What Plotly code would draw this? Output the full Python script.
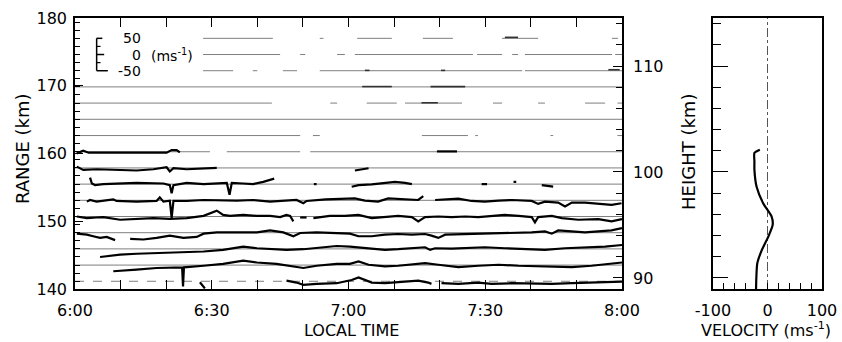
import plotly.graph_objects as go

# ---------------- data ----------------
time_tickvals = [0, 30, 60, 90, 120]          # minutes after 6:00 LT
time_ticktext = ["6:00", "6:30", "7:00", "7:30", "8:00"]
range_tickvals = [140, 150, 160, 170, 180]
height_tickvals = [90, 100, 110]
vel_tickvals = [-100, 0, 100]
vel_ticktext = ["-100", "0", "100"]

# gate (baseline) ranges, km
row_range = [177.00, 174.61, 172.22, 169.83, 167.44, 165.05, 162.65, 160.26,
             157.87, 155.48, 153.09, 150.70, 148.31, 145.92, 143.53, 141.14]

# time intervals (min) in which each gate has echoes (thin baselines)
thin_segs = [
    [(28.1, 43.4), (53.7, 54.5), (61.9, 69.5), (76.3, 82.9), (93.7, 101.6), (117.8, 119.1)],
    [(28.1, 45.0), (49.4, 50.5), (57.5, 59.2), (61.4, 87.3), (88.2, 93.7), (95.9, 97.2), (98.7, 117.8), (118.5, 120)],
    [(28.1, 34.7), (39.0, 40.0), (45.6, 48.7), (53.7, 98.1), (98.7, 120)],
    [(0, 120)],
    [(0, 43.2), (56.0, 57.5), (64.0, 70.6), (72.4, 84.9), (91.7, 93.7), (101.6, 103.1), (111.9, 116.3), (119.0, 120)],
    [(0, 120)],
    [(0, 49.4), (52.2, 53.7), (76.1, 86.2), (87.8, 88.4), (104.3, 104.9), (119.0, 120)],
    [(0, 29.6), (33.3, 49.4), (51.6, 120)],
    [(0, 120)], [(0, 120)], [(0, 120)], [(0, 120)], [(0, 120)], [(0, 120)], [(0, 120)],
    [(0, 120)],
]

# velocity traces (m/s) per gate; None separates data gaps
r00_t = [94.3, 97.2]
r00_v = [3, 3]
r02_t = [63.6, 64.6, None, 80.3, 81.2, None, 117.0, 119.5]
r02_v = [1, 1, None, 1, 1, None, 3, 3]
r03_t = [63.0, 69.5, None, 78.0, 85.6]
r03_v = [1, 1, None, 1, 1]
r04_t = [76.0, 79.6]
r04_v = [1, 1]
r07_t = [0.4, 1.8, 3.0, 6.2, 13.5, 20.1, 21.2, 22.3, 23.0, None, 79.4, 83.8]
r07_v = [-5, 3, -3, -3, -3, -3, 5, 5, -2, None, 1, 1]
r08_t = [0.4, 1.8, 4.75, 9.9, 13.5, 17.2, 20.1, 20.8, 21.6, 24.5, 28.2, 31.1, None, 61.4, 62.9, 64.4]
r08_v = [4, -6, -4, -6, -8, -4, 2, -11, -1, -4, -1, 0, None, -8, -5, -1]
r09_t = [3.3, 3.7, 4.4, 6.2, 13.5, 19.4, 20.8, 21.2, 21.6, 24.5, 28.2, 33.3, 33.9, 34.4, 36.9, 39.1,
         41.3, 42.8, 43.7, None, 52.4, 53.0, None, 60.7, 62.2, 65.1, 68.0, 70.2, 72.4, 73.9, None,
         89.2, 90.4, None, 96.2, 96.8, None, 102.4, 104.0, 104.9]
r09_v = [20, 2, -3, 0, 4, 2, -3, -28, -3, 4, 0, 4, -33, 4, 2, 0,
         7, 12, 17, None, 0, 0, None, -8, -3, -1, 4, 7, 4, 0, None,
         0, 0, None, 7, 7, None, -3, -5, -8]
r10_t = [2.6, 3.3, 4.75, 6.2, 8.4, 9.1, 13.5, 17.9, 18.6, 19.4, 20.8, 21.2, 21.6, 24.5, 28.2, 35.5,
         39.1, 42.8, 46.4, 48.6, 50.1, 50.8, 55.0, 59.2, 61.4, 63.6, 66.5, 68.7, 72.4, 75.3, 76.4, None,
         79.0, 81.2, 84.1, 87.0, 89.9, 92.9, 95.8, 100.2, 101.6, 103.1, 106.0, 107.5, 109.0, 111.9,
         114.8, 117.7, 119.9]
r10_v = [-4, 1, -4, -1, 3, -2, -4, -2, 9, -4, -1, -54, -2, -2, 1, -1,
         1, -4, -1, 1, -9, -2, 3, 5, 6, -1, -4, 6, 3, 1, 13, None,
         1, 3, 5, -2, -4, -1, 1, -2, -11, -4, -7, -19, -7, -7,
         -11, -14, -9]
r11_t = [0.4, 2.6, 4.75, 6.2, 9.9, 13.5, 17.2, 20.8, 24.5, 28.2, 30.3, 31.1, 32.5, 34.0, 36.9, 39.9,
         42.8, 45.0, 46.4, 47.2, 47.9, None, 49.4, 50.8, None,
         52.3, 55.9, 59.2, 62.2, 65.1, 68.0, 70.9, 73.9, 75.3, 76.8, 79.7, 82.6, 85.6, 88.5, 91.4,
         94.3, 97.3, 100.2, 100.9, 101.6, 104.6, 106.8, 110.4, 114.8, 117.7, 120]
r11_v = [0, -5, -3, -2, -10, -8, -5, -7, -5, 2, 15, 18, 5, 2, 5, 2,
         2, -2, 5, 2, -15, None, -3, -3, None,
         -5, 2, 2, 5, -5, -2, 2, -2, -15, -2, 0, -2, 0, -2, 2,
         5, 2, -2, -18, -2, 2, -5, -10, -8, -15, -8]
r12_t = [0.4, 2.6, 4.0, 5.5, 6.95, 8.4, 8.8, None,
         12.1, 15.0, 17.9, 20.8, 23.8, 26.7, 28.2, 31.1, 35.5, 39.9, 42.8, 45.7, 47.9, 49.4, 53.0,
         57.4, 60.3, 62.2, 65.1, 68.0, 70.9, 73.9, 76.8, 78.2, 79.7, 81.2, 85.6, 88.5, 92.9, 97.3,
         100.2, 103.1, 104.6, 106.0, 109.0, 111.9, 114.8, 117.7, 120]
r12_v = [-3, -6, -11, -16, -13, -21, -23, None,
         -19, -21, -16, -9, -16, -13, -3, 1, 1, 1, 7, 1, -11, -1, 1,
         -1, -3, -11, -11, -6, -4, -6, -4, -9, -16, -6, -4, -3, -1, -1,
         1, 4, -3, 7, 4, 1, 4, 7, 14]
r13_t = [5.5, 9.9, 13.5, 17.9, 20.8, 24.5, 28.2, 32.5, 36.9, 39.9, 42.8, 46.4, 50.1, 53.7, 57.4,
         60.3, 62.2, 65.1, 68.0, 70.9, 73.9, 76.8, 77.9, 79.0, 82.6, 85.6, 89.9, 94.3, 98.7, 103.1,
         107.5, 111.9, 116.3, 120]
r13_v = [-25, -18, -15, -13, -13, -11, -8, -3, 7, 2, -1, -3, -1, 5, 9,
         7, 5, 2, -3, -1, 2, 5, -3, 2, 1, 2, 5, 2, -1, -3,
         2, 5, 7, 12]
r14_t = [8.4, 10.6, 13.5, 17.9, 23.5, 23.7, 23.9, 28.2, 32.5, 36.9, 39.9, 44.2, 48.6, 50.1, 53.0,
         57.4, 60.3, 62.2, 64.4, 68.0, 70.9, 73.9, 76.8, 79.7, 84.1, 88.5, 92.9, 97.3, 103.1, 109.0,
         113.3, 117.7, 120]
r14_v = [-19, -16, -14, -9, -7, -66, -7, -2, 4, 14, 8, 4, -4, -9, -2,
         4, 4, 11, 1, -4, -2, 1, 6, 1, -6, -2, 1, -2, -4, -6,
         -2, 4, 8]
r15_t = [27.4, 28.5, None, 46.4, 48.6, 50.1, 53.0, 57.4, 59.2, 60.7, 62.2, 63.6, 65.1, 68.0, 72.4,
         75.3, 77.5, 78.2, None, 80.4, 84.1, 88.5, 91.4, 95.8, 100.2, 104.6, 109.0, 113.3, 117.7, 120]
r15_v = [-3, -22, None, 2, -4, -11, -8, -6, -1, 4, 12, 4, -4, -6, -1,
         2, -4, -8, None, -6, -8, -4, -8, -6, -8, -8, -6, -4, -4, -1]

# mean velocity profile (right panel)
prof_height = [102.1, 101.8, 101.0, 100.2, 98.6, 97.05, 95.8, 95.0, 93.9, 92.6, 91.4, 90.0, 88.96]
prof_vel = [-14, -24, -24, -24, -20, -8, 7.6, 9.5, 1.5, -10.7, -18.7, -20.5, -21]

# ---------------- layout constants ----------------
VS = 2.391 / 50.0        # km of range per m/s on the time-range plot
RANGE_LIM = [140, 180]
HEIGHT_LIM = [88.96, 114.53]
FONT = "DejaVu Sans"
L, T, W, H = 75, 18, 747, 271


def px(x):
    return (x - L) / W


def py(y):
    return (T + H - y) / H


bold = {0: (r00_t, r00_v), 2: (r02_t, r02_v), 3: (r03_t, r03_v), 4: (r04_t, r04_v),
        7: (r07_t, r07_v), 8: (r08_t, r08_v), 9: (r09_t, r09_v), 10: (r10_t, r10_v),
        11: (r11_t, r11_v), 12: (r12_t, r12_v), 13: (r13_t, r13_v), 14: (r14_t, r14_v),
        15: (r15_t, r15_v)}

fig = go.Figure()

for k, r in enumerate(row_range):
    xs, ys = [], []
    for a, b in thin_segs[k]:
        xs += [a, b, None]
        ys += [r, r, None]
    fig.add_trace(go.Scatter(x=xs, y=ys, mode="lines", showlegend=False, hoverinfo="skip",
                             line=dict(color="#7f7f7f", width=1,
                                       dash="dash" if k == len(row_range) - 1 else "solid")))

for k, (t, v) in bold.items():
    y = [None if vv is None else row_range[k] + vv * VS for vv in v]
    upper = k < 7
    fig.add_trace(go.Scatter(x=t, y=y, mode="lines", showlegend=False, hoverinfo="skip",
                             connectgaps=False,
                             line=dict(color="#333333" if upper else "black",
                                       width=1.6 if upper else 2.2)))

# invisible trace to carry the height axis on the right of main panel
fig.add_trace(go.Scatter(x=[0], y=[100], yaxis="y2", mode="markers",
                         marker=dict(opacity=0), showlegend=False, hoverinfo="skip"))

# right panel
fig.add_trace(go.Scatter(x=[0, 0], y=HEIGHT_LIM, xaxis="x2", yaxis="y3", mode="lines",
                         line=dict(color="#555555", width=1, dash="dashdot"),
                         showlegend=False, hoverinfo="skip"))
fig.add_trace(go.Scatter(x=prof_vel, y=prof_height, xaxis="x2", yaxis="y3", mode="lines",
                         line=dict(color="black", width=2.2, shape="spline", smoothing=0.6),
                         showlegend=False, hoverinfo="skip"))

# velocity scale bar (E shape)
top = row_range[1] + 50 * VS
bot = row_range[1] - 50 * VS
shapes = [dict(type="line", xref="x", yref="y", x0=4.75, x1=4.75, y0=bot, y1=top,
               line=dict(color="black", width=1.5))]
for yy, x1 in [(top, 6.0), (row_range[1], 6.4), (bot, 7.2)]:
    shapes.append(dict(type="line", xref="x", yref="y", x0=4.75, x1=x1, y0=yy, y1=yy,
                       line=dict(color="black", width=1.5)))
for yy in [(top + row_range[1]) / 2, (bot + row_range[1]) / 2]:
    shapes.append(dict(type="line", xref="x", yref="y", x0=4.75, x1=5.6, y0=yy, y1=yy,
                       line=dict(color="black", width=1.2)))

ann = []
for txt, yy in [("50", top), ("0", row_range[1]), ("-50", bot)]:
    ann.append(dict(x=14.9, y=yy, xref="x", yref="y", text=txt, showarrow=False,
                    xanchor="right", yanchor="middle", font=dict(family=FONT, size=14, color="black")))
ann.append(dict(x=16.3, y=row_range[1], xref="x", yref="y", text="(ms<sup>-1</sup>)", showarrow=False,
                xanchor="left", yanchor="middle", font=dict(family=FONT, size=14, color="black")))

titles = [
    ("RANGE (km)", 22, 149, -90, 18),
    ("LOCAL TIME", 351, 330, 0, 16),
    ("HEIGHT (km)", 688, 152, -90, 18),
    ("VELOCITY (ms<sup>-1</sup>)", 766, 329, 0, 16),
]
for txt, x, y, ang, sz in titles:
    ann.append(dict(x=px(x), y=py(y), xref="paper", yref="paper", text=txt, textangle=ang,
                    xanchor="center", yanchor="middle", showarrow=False,
                    font=dict(family=FONT, size=sz, color="black")))

tickfont = dict(family=FONT, size=16, color="black")

fig.update_layout(
    width=842, height=342, autosize=False,
    margin=dict(l=L, r=842 - L - W, t=T, b=342 - T - H, pad=0, autoexpand=False),
    paper_bgcolor="white", plot_bgcolor="white",
    shapes=shapes, annotations=ann,
    xaxis=dict(domain=[0, px(622)], range=[0, 120], tickvals=time_tickvals, ticktext=time_ticktext,
               ticks="inside", ticklen=9, tickwidth=1.2, tickcolor="black", mirror="allticks",
               showline=True, linecolor="black", linewidth=1.6, showgrid=False, zeroline=False,
               minor=dict(dtick=10, tick0=0, ticks="inside", ticklen=5, tickcolor="black", showgrid=False),
               tickfont=tickfont, ticklabelstandoff=6, automargin=False),
    yaxis=dict(range=RANGE_LIM, tickvals=range_tickvals, ticks="inside", ticklen=8, tickwidth=1.2,
               tickcolor="black", showline=True, linecolor="black", linewidth=1.6, mirror=True,
               showgrid=False, zeroline=False,
               minor=dict(tick0=row_range[-1], dtick=2.391 / 2, ticks="inside", ticklen=5,
                          tickcolor="black", showgrid=False),
               tickfont=tickfont, ticklabelstandoff=3, automargin=False),
    yaxis2=dict(overlaying="y", side="right", anchor="x", range=HEIGHT_LIM, tickvals=height_tickvals,
                ticks="inside", ticklen=9, tickwidth=1.2, tickcolor="black", showline=False,
                showgrid=False, zeroline=False,
                minor=dict(dtick=2, tick0=90, ticks="inside", ticklen=6, tickcolor="black", showgrid=False),
                tickfont=tickfont, ticklabelstandoff=10, automargin=False),
    xaxis2=dict(domain=[px(713), 1.0], anchor="y3", range=[-100, 100], tickvals=vel_tickvals,
                ticktext=vel_ticktext,
                ticks="inside", ticklen=6, tickwidth=1.2, tickcolor="black", showline=True,
                linecolor="black", linewidth=2, mirror=True, showgrid=False, zeroline=False,
                minor=dict(dtick=20, tick0=0, ticks="inside", ticklen=6, tickcolor="black", showgrid=False),
                tickfont=tickfont, ticklabelstandoff=6, automargin=False),
    yaxis3=dict(domain=[0, 1], anchor="x2", range=HEIGHT_LIM, tickvals=height_tickvals, showticklabels=False,
                ticks="inside", ticklen=15, tickwidth=1.2, tickcolor="black", showline=True,
                linecolor="black", linewidth=2, mirror=True, showgrid=False, zeroline=False,
                minor=dict(dtick=2, tick0=90, ticks="inside", ticklen=8, tickcolor="black", showgrid=False),
                automargin=False),
)

fig.write_html("out.html", config={"responsive": False, "displayModeBar": False},
               post_script="document.body.style.margin='0';document.body.style.overflow='hidden';")
